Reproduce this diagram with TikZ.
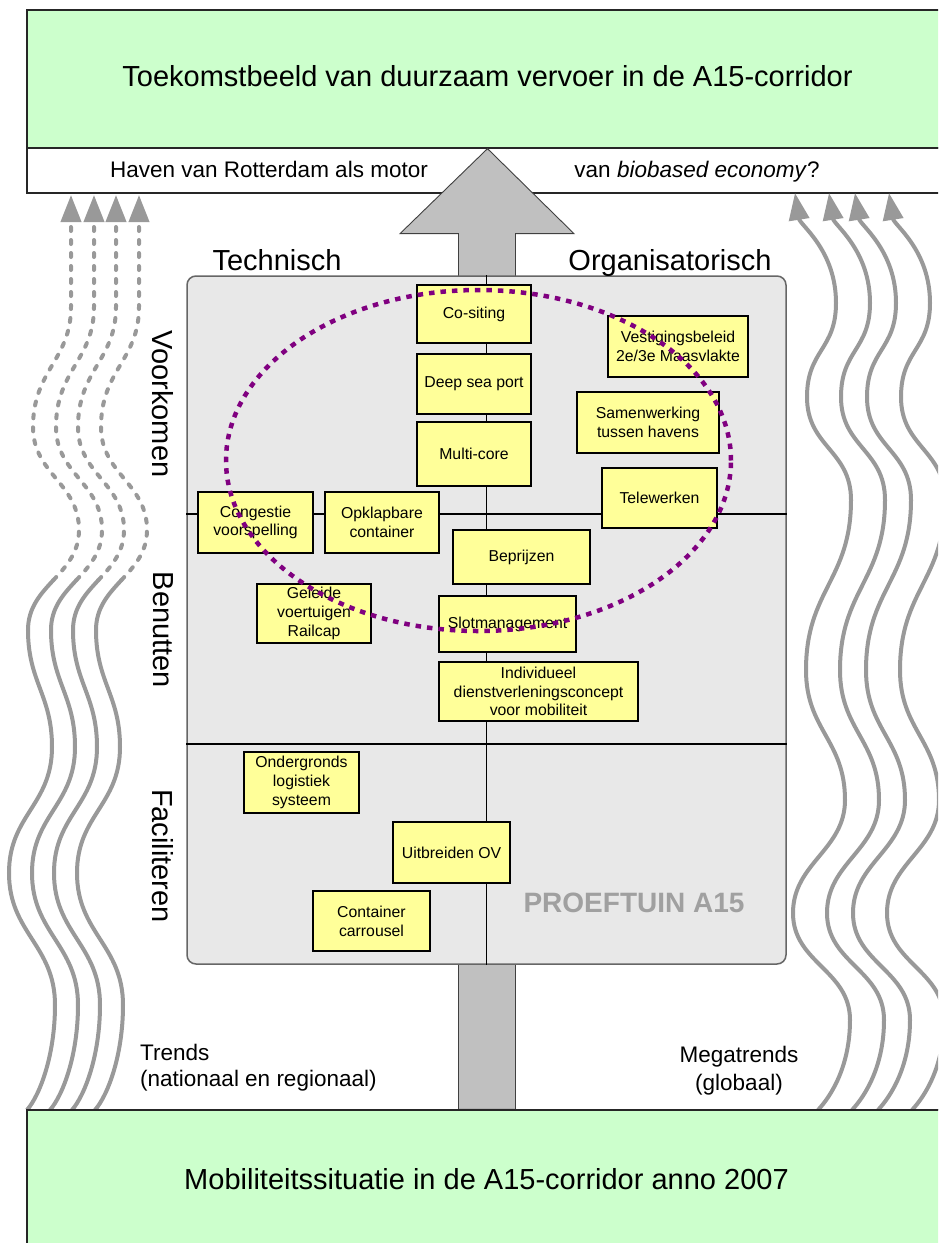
\documentclass[tikz,border=0pt]{standalone}
\usepackage{fontspec}
\setmainfont{Liberation Sans}
\usetikzlibrary{arrows.meta,calc}
\definecolor{futuregreen}{HTML}{CCFFCC}
\definecolor{noteyellow}{HTML}{FFFF99}
\definecolor{panelgray}{HTML}{E8E8E8}
\definecolor{arrowgray}{HTML}{C0C0C0}
\definecolor{wavegray}{HTML}{999999}
\definecolor{ringpurple}{HTML}{800080}
\definecolor{markgray}{HTML}{A0A0A0}
\begin{document}
\begin{tikzpicture}[x=1pt,y=-1pt,
  greenbox/.style={draw=black!85, line width=1.3pt, fill=futuregreen, inner sep=0pt},
  bandbox/.style={draw=black!85, line width=1.3pt, fill=white, inner sep=0pt},
  panelbox/.style={draw=black!60, line width=1.5pt, fill=panelgray, rounded corners=9pt, inner sep=0pt},
  card/.style={draw=black, line width=1.3pt, fill=noteyellow, inner sep=1pt, align=center,
    text=black, font=\fontsize{15.8}{18.7}\selectfont},
  divider/.style={draw=black, line width=1.2pt},
  bodyarrow/.style={draw=black!75, line width=0.9pt, fill=arrowgray},
  wave/.style={draw=wavegray, line width=4pt},
  dotwave/.style={wave, line cap=round, dash pattern=on 4pt off 9pt},
  wavehead/.style={-{Triangle[length=27pt,width=20pt]}},
  ring/.style={draw=ringpurple, line width=4.5pt, dash pattern=on 5.5pt off 6pt},
  bigtext/.style={inner sep=0pt, text=black, font=\fontsize{29}{34}\selectfont},
  smalltext/.style={inner sep=0pt, text=black, font=\fontsize{22.5}{26}\selectfont},
  marktext/.style={inner sep=0pt, text=markgray, font=\bfseries\fontsize{28}{32}\selectfont}
]
\useasboundingbox (0,0) rectangle (938,1243);
\clip (0,0) rectangle (938,1243);
\fill[white] (0,0) rectangle (938,1243);

% goal and starting situation
\node[greenbox, minimum width=921pt, minimum height=138pt] (future) at (487.5,79) {};
\node[bandbox, minimum width=921pt, minimum height=45pt] (band) at (487.5,170.5) {};
\node[bigtext] (futuretitle) at (487.5,76) {Toekomstbeeld van duurzaam vervoer in de A15-corridor};
\node[smalltext, anchor=base] (bandleft) at (269,177) {Haven van Rotterdam als motor};
\node[smalltext, anchor=base] (bandright) at (697,177) {van \textit{biobased economy}?};

% trends (left, partly uncertain) and megatrends (right)
\foreach \dx in {0,23,45,68}{
  \draw[wave, xshift=\dx pt] (27,1110) .. controls (40,1095) and (55,1055) .. (55,1005)
    .. controls (55,945) and (9,933) .. (9,873)
    .. controls (9,815) and (52,805) .. (52,747)
    .. controls (52,695) and (28,682) .. (28,630)
    .. controls (28,607.5) and (40.75,593.75) .. (53.5,580);
  \draw[dotwave, wavehead, xshift=\dx pt] (53.5,580) .. controls (66.25,566.25) and (79,552.5) .. (79,530)
    .. controls (79,483) and (33,474) .. (33,427)
    .. controls (33,370) and (71,360) .. (71,307) -- (71,195);
}
\foreach \dx in {0,34,60,94}{
  \draw[wave, wavehead, xshift=\dx pt] (818,1110) .. controls (832,1095) and (850,1065) .. (850,1020)
    .. controls (850,970) and (793,963) .. (793,913)
    .. controls (793,863) and (845,850) .. (845,800)
    .. controls (845,740) and (806,730) .. (806,670)
    .. controls (806,590) and (851,580) .. (851,500)
    .. controls (851,450) and (807,447) .. (807,397)
    .. controls (807,350) and (836,350) .. (836,303)
    .. controls (836,250) and (800,225) .. (795,193);
}

\node[greenbox, minimum width=921pt, minimum height=150pt] (now) at (487.5,1185) {};

% the broad development arrow
\draw[bodyarrow] ($(now.north)+(-29,0)$) -- ($(future.south)+(-29,85)$) -- ($(future.south)+(-87.5,85)$)
  -- (future.south) -- ($(future.south)+(86.5,85)$) -- ($(future.south)+(28,85)$)
  -- ($(now.north)+(28,0)$) -- cycle;
\draw[greenbox] (now.north west) -- (now.north east);
\node[bigtext] (nowtitle) at (486.5,1179) {Mobiliteitssituatie in de A15-corridor anno 2007};

% test field panel with its quadrants
\node[panelbox, minimum width=599pt, minimum height=688pt] (panel) at (486.5,620) {};
\coordinate (rowA) at (0,514);
\coordinate (rowB) at (0,744);
\draw[divider] (panel.north) -- (panel.south);
\draw[divider] (panel.west |- rowA) -- (panel.east |- rowA);
\draw[divider] (panel.west |- rowB) -- (panel.east |- rowB);

\node[bigtext, anchor=base] (technisch) at (277,270) {Technisch};
\node[bigtext, anchor=base] (organisatorisch) at (670,270) {Organisatorisch};
\node[bigtext, rotate=-90] (voorkomen) at (163,404) {Voorkomen};
\node[bigtext, rotate=-90] (benutten) at (163,630) {Benutten};
\node[bigtext, rotate=-90] (faciliteren) at (163,856) {Faciliteren};
\node[marktext] (proeftuin) at (634,903) {PROEFTUIN A15};

% measures
\node[card, minimum width=114pt, minimum height=58pt] (cositing) at (474,314) {Co-siting};
\node[card, minimum width=114pt, minimum height=60pt] (deepsea) at (474,384) {Deep sea port};
\node[card, minimum width=114pt, minimum height=64pt] (multicore) at (474,454) {Multi-core};
\node[card, minimum width=140pt, minimum height=61pt] (vestiging) at (678,346.5) {Vestigingsbeleid\\2e/3e Maasvlakte};
\node[card, minimum width=142pt, minimum height=61pt] (samenwerking) at (648,422.5) {Samenwerking\\tussen havens};
\node[card, minimum width=115pt, minimum height=60pt] (telewerken) at (659.5,498) {Telewerken};
\node[card, minimum width=115pt, minimum height=61pt] (congestie) at (255.5,522.5) {Congestie\\voorspelling};
\node[card, minimum width=114pt, minimum height=61pt] (opklapbaar) at (382,522.5) {Opklapbare\\container};
\node[card, minimum width=137pt, minimum height=54pt] (beprijzen) at (521.5,557) {Beprijzen};
\node[card, minimum width=114pt, minimum height=59pt] (geleid) at (314,613.5) {Geleide\\voertuigen\\Railcap};
\node[card, minimum width=137pt, minimum height=56pt] (slot) at (507.5,624) {Slotmanagement};
\node[card, minimum width=199pt, minimum height=59pt] (dienst) at (538.5,691.5) {Individueel\\dienstverleningsconcept\\voor mobiliteit};
\node[card, minimum width=115pt, minimum height=61pt] (ondergronds) at (301.5,782.5) {Ondergronds\\logistiek\\systeem};
\node[card, minimum width=117pt, minimum height=61pt] (ov) at (451.5,852.5) {Uitbreiden OV};
\node[card, minimum width=117pt, minimum height=60pt] (carrousel) at (371.5,921) {Container\\carrousel};

% port-related cluster
\draw[ring] (478.5,460.5) ellipse [x radius=252.5pt, y radius=170.5pt];

% trend captions
\node[smalltext, anchor=base west] (trends) at (140,1060) {Trends};
\node[smalltext, anchor=base west] (trendscope) at (140,1086) {(nationaal en regionaal)};
\node[smalltext, anchor=base] (megatrends) at (739,1062) {Megatrends};
\node[smalltext, anchor=base] (megascope) at (739,1090) {(globaal)};
\end{tikzpicture}
\end{document}
